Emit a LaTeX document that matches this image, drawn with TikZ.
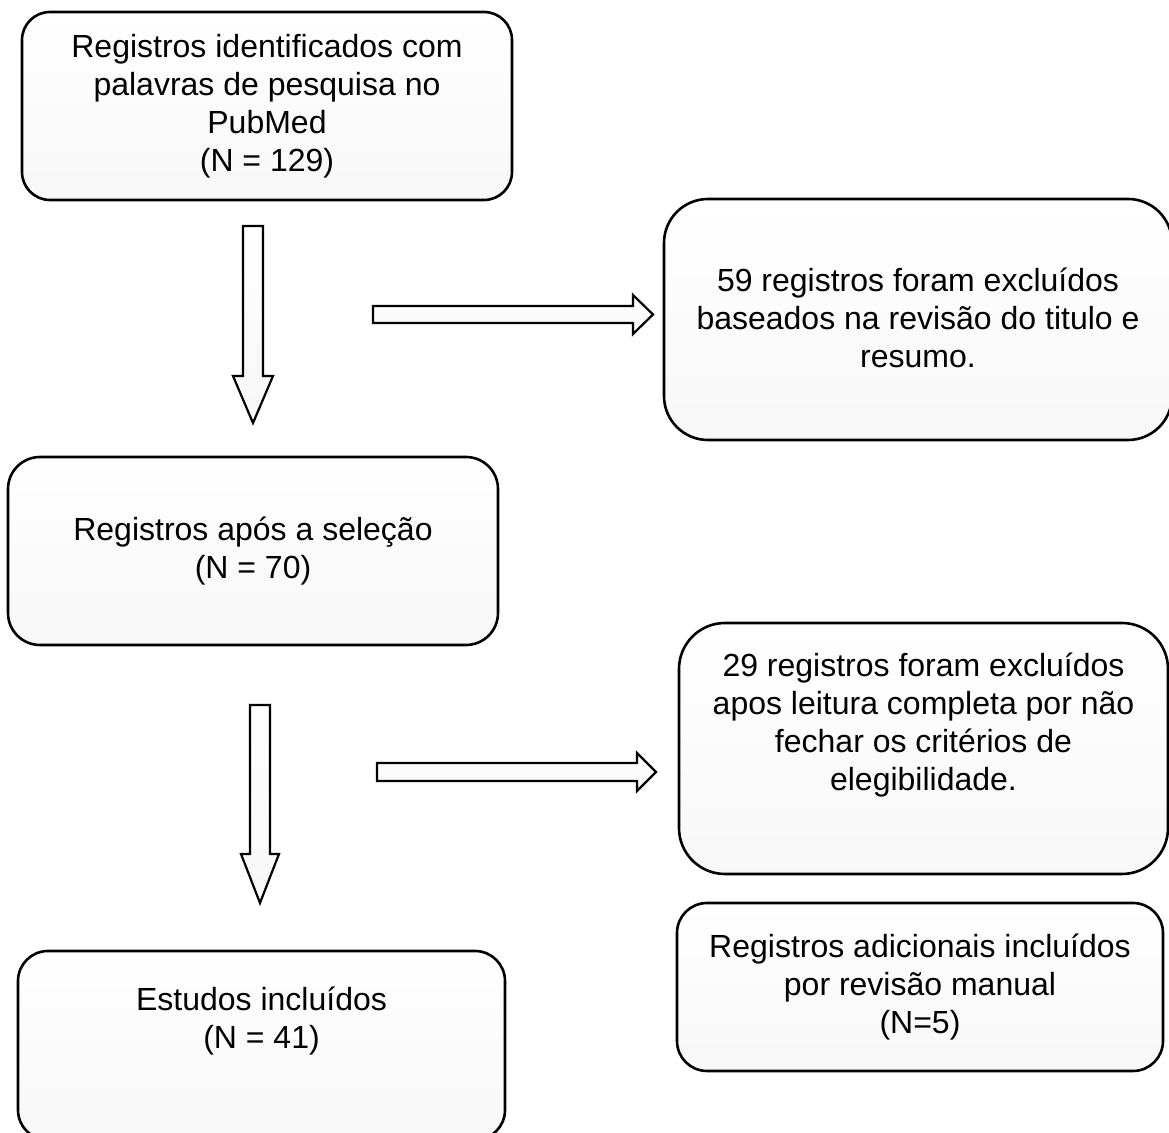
\documentclass[tikz,border=0pt]{standalone}
\usepackage{fontspec}
\setmainfont{Liberation Sans}
\begin{document}
\begin{tikzpicture}[x=0.5pt,y=-0.5pt,
  box/.style={draw, line width=1.3pt, top color=white, bottom color=black!3,
    inner sep=0pt, align=center, font=\fontsize{16pt}{19pt}\selectfont},
  blockarrow/.style={draw, line width=1.1pt, line join=miter, top color=white, bottom color=black!3}]
\path[use as bounding box] (0,0) rectangle (1169,1133);
\clip (0,0) rectangle (1169,1133);

\node[box, rounded corners=14pt, minimum width=245pt, minimum height=94pt, text depth=3pt] (b1) at (267,106)
  {Registros identificados com\\palavras de pesquisa no\\PubMed\\(N = 129)};
\node[box, rounded corners=22pt, minimum width=254pt, minimum height=120.5pt, text depth=2pt] (b2) at (918,319.5)
  {59 registros foram excluídos\\baseados na revisão do titulo e\\resumo.};
\node[box, rounded corners=16pt, minimum width=245pt, minimum height=94pt, text depth=3pt] (b3) at (253,551)
  {Registros após a seleção\\(N = 70)};
\node[box, rounded corners=23pt, minimum width=244.5pt, minimum height=125.5pt,
  label={[align=center, font=\fontsize{16pt}{19pt}\selectfont, yshift=11.8pt]center:{29 registros foram excluídos\\apos leitura completa por não\\fechar os critérios de\\elegibilidade.}}] (b4) at (923.5,748.5) {};
\node[box, rounded corners=15pt, minimum width=243pt, minimum height=84pt, text depth=3pt] (b5) at (920,987)
  {Registros adicionais incluídos\\por revisão manual\\(N=5)};
\node[box, rounded corners=15pt, minimum width=243.5pt, minimum height=94.5pt,
  label={[align=center, font=\fontsize{16pt}{19pt}\selectfont, yshift=12pt]center:{Estudos incluídos\\(N = 41)}}] (b6) at (261.5,1045.5) {};

% block arrows
\draw[blockarrow] (243,226) -- (263,226) -- (263,376) -- (273,376) -- (253,423) -- (233,376) -- (243,376) -- cycle;
\draw[blockarrow] (373,306) -- (633,306) -- (633,295) -- (653,314.5) -- (633,334) -- (633,323) -- (373,323) -- cycle;
\draw[blockarrow] (250,705) -- (270,705) -- (270,854) -- (279,854) -- (260,903) -- (241,854) -- (250,854) -- cycle;
\draw[blockarrow] (377,763) -- (637,763) -- (637,753) -- (656,772) -- (637,791) -- (637,781) -- (377,781) -- cycle;
\end{tikzpicture}
\end{document}
